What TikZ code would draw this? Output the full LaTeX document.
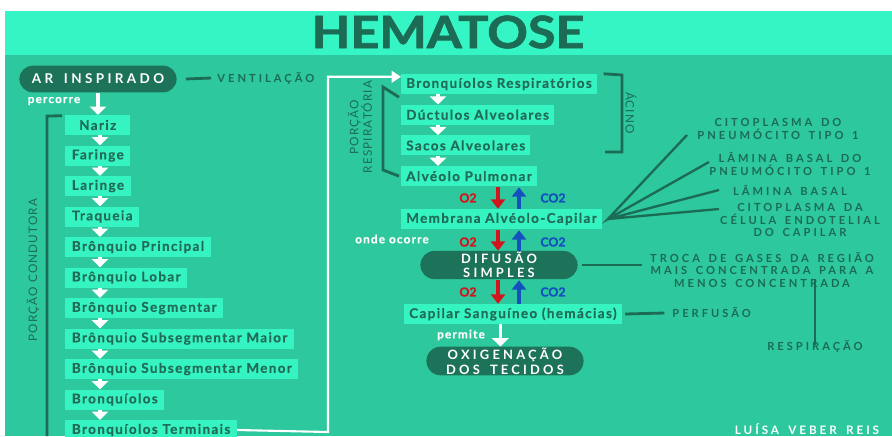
\documentclass[tikz,border=0pt]{standalone}
\usepackage{fontspec}
\setmainfont{Lato}
\newfontfamily\titlefont[BoldFeatures={FakeBold=1.5}]{Lato}
\newfontfamily\boxfont[LetterSpace=10,BoldFeatures={FakeBold=0.4}]{Lato}
\newfontfamily\pillfont[LetterSpace=25,WordSpace=1.6]{Lato}
\newfontfamily\lblfont[LetterSpace=27,WordSpace=1.5]{Lato}
\newfontfamily\sidefont[LetterSpace=10]{Lato}
\usetikzlibrary{arrows.meta,shapes.misc}

\definecolor{bgc}{HTML}{2DC89D}
\definecolor{band}{HTML}{36F5C4}
\definecolor{boxc}{HTML}{35F4C2}
\definecolor{dark}{HTML}{1C6B55}
\definecolor{boxtext}{HTML}{226C57}
\definecolor{pillc}{HTML}{1D7359}
\definecolor{otwo}{HTML}{D0161C}
\definecolor{cotwo}{HTML}{1450BE}

\begin{document}
\begin{tikzpicture}[x=0.03cm,y=-0.03cm,
    box/.style={fill=boxc,text=boxtext,font=\boxfont\bfseries\fontsize{11.5}{13}\selectfont,anchor=west,minimum height=0.6cm,inner xsep=0.15cm,inner ysep=0pt},
    pill/.style={rounded rectangle,fill=pillc,text=white,align=center,minimum height=0.8cm,minimum width=4.95cm,inner ysep=1pt},
    lbl/.style={text=dark,font=\lblfont\bfseries\fontsize{9.5}{11}\selectfont,align=center,inner sep=1pt},
    side/.style={text=dark,font=\sidefont\fontsize{10}{11.5}\selectfont,align=center,inner sep=1pt},
    note/.style={text=white,font=\boxfont\bfseries\fontsize{10}{11}\selectfont,inner sep=1pt},
    gasl/.style={font=\titlefont\bfseries\fontsize{10.5}{11}\selectfont,inner sep=1pt},
    warrow/.style={white,line width=2.6pt,-{Triangle[width=14pt,length=7pt]}},
    gas/.style={line width=3pt,-{Triangle[width=12pt,length=8pt]}},
    dline/.style={dark,line width=2.4pt}]
    \useasboundingbox (0,0) rectangle (892,436);
    \fill[white] (0,0) rectangle (892,436);
    \fill[band] (5,11) rectangle (892,55);
    \fill[bgc] (5,55) rectangle (892,436);

    \node[text=dark,font=\titlefont\bfseries\fontsize{38}{38}\selectfont,xscale=1.13] (title) at (448,32) {HEMATOSE};

    % porcao condutora
    \node[pill,font=\pillfont\bfseries\fontsize{11.5}{13}\selectfont] (ar) at (98,79) {AR INSPIRADO};
    \node[lbl,anchor=west] (vent) at (216,78) {VENTILAÇÃO};
    \draw[dline] ([xshift=0.27cm]ar.east) -- ([xshift=-0.15cm]vent.west);
    \node[note] (perc) at (54,101) {percorre};

    \foreach \t[count=\i] in {Nariz,Faringe,Laringe,Traqueia,Brônquio Principal,Brônquio Lobar,Brônquio Segmentar,Brônquio Subsegmentar Maior,Brônquio Subsegmentar Menor,Bronquíolos,Bronquíolos Terminais} {
        \node[box,minimum width=1.95cm,inner xsep=0.2cm] (c\i) at (65,{125+(\i-1)*30.5}) {\t};
    }
    \foreach \i[evaluate=\i as \j using int(\i+1)] in {1,...,10} {
        \draw[warrow] ([xshift=1.05cm]c\i.south west) -- ([xshift=1.05cm]c\j.north west);
    }
    \draw[warrow] (ar.south) -- (ar.south |- c1.north);
    \draw[dline] ([xshift=-0.09cm,yshift=-0.03cm]c1.north west) -- (47,116) -- (47,436);
    \node[side,rotate=90] (cond) at (33,270) {PORÇÃO CONDUTORA};

    % porcao respiratoria
    \foreach \t[count=\i] in {Bronquíolos Respiratórios,Dúctulos Alveolares,Sacos Alveolares,Alvéolo Pulmonar} {
        \node[box] (r\i) at (401,{84+(\i-1)*30.7}) {\t};
    }
    \foreach \i[evaluate=\i as \j using int(\i+1)] in {1,2,3} {
        \draw[warrow] ([xshift=1.11cm]r\i.south west) -- ([xshift=1.11cm]r\j.north west);
    }
    \coordinate (bend) at (328,432);
    \draw[white,line width=1.8pt,-{Triangle[width=10pt,length=8pt]}] (c11.east) -- (bend) |- ([yshift=-0.09cm]r1.north west);
    \draw[dline] ([xshift=-0.06cm,yshift=-0.09cm]r1.south west) -- (383,87) -- (383,170) -- ([xshift=-0.06cm]r4.west);
    \node[side,rotate=90] (resp) at (360,127) {PORÇÃO\\RESPIRATÓRIA};
    \draw[dline] ([xshift=0.2cm]r1.north east) -- (622,75) -- (622,152) -- (605,152);
    \node[side,rotate=-90] (acino) at (631,113) {ÁCINO};

    \node[box] (memb) at (401,219) {Membrana Alvéolo-Capilar};
    \node[pill,font=\pillfont\bfseries\fontsize{11}{12}\selectfont] (dif) at (499,265) {DIFUSÃO\\SIMPLES};
    \node[box] (cap) at (404,314) {Capilar Sanguíneo (hemácias)};
    \node[pill,font=\pillfont\bfseries\fontsize{11}{12.5}\selectfont] (oxi) at (505,361) {OXIGENAÇÃO\\DOS TECIDOS};

    % trocas gasosas
    \coordinate (ox) at (498,0);
    \coordinate (cx) at (519,0);
    \foreach \a/\b/\y in {r4/memb/198,memb/dif/242,dif/cap/292} {
        \draw[gas,otwo] ([yshift=-0.03cm]ox |- \a.south) -- (ox |- \b.north);
        \draw[gas,cotwo] (cx |- \b.north) -- ([yshift=-0.03cm]cx |- \a.south);
        \node[gasl,text=otwo] at (468,\y) {O2};
        \node[gasl,text=cotwo] at (553,\y) {CO2};
    }
    \node[note] (onde) at (392,239) {onde ocorre};
    \node[note] (perm) at (461,335) {permite};
    \draw[warrow] ([xshift=-0.14cm]oxi.north |- cap.south) -- ([xshift=-0.14cm]oxi.north);

    % camadas da membrana
    \coordinate (fan) at ([xshift=0.18cm]memb.east);
    \node[lbl] (l1) at (778,129) {CITOPLASMA DO\\PNEUMÓCITO TIPO 1};
    \node[lbl] (l2) at (790,164) {LÂMINA BASAL DO\\PNEUMÓCITO TIPO 1};
    \node[lbl] (l3) at (790,190) {LÂMINA BASAL};
    \node[lbl] (l4) at (800,220) {CITOPLASMA DA\\CÉLULA ENDOTELIAL\\DO CAPILAR};
    \draw[dline,line width=2pt] (687,135) -- (fan) -- (709,162);
    \draw[dline,line width=2pt] (719,190) -- (fan) -- (719,209);

    \node[lbl] (troca) at (762,270) {TROCA DE GASES DA REGIÃO\\MAIS CONCENTRADA PARA A\\MENOS CONCENTRADA};
    \draw[dline] ([xshift=0.12cm]dif.east) -- ([xshift=-0.2cm]troca.west |- dif.east);
    \node[lbl] (respi) at (815,346) {RESPIRAÇÃO};
    \draw[dline] ([yshift=-0.2cm]respi.north) -- ([yshift=0.3cm]respi.north |- troca.south);
    \node[lbl,anchor=west] (perf) at (671,313) {PERFUSÃO};
    \draw[dline] ([xshift=0.1cm]cap.east) -- ([xshift=-0.2cm]perf.west);

    \node[text=white,font=\pillfont\bfseries\fontsize{10}{10}\selectfont,inner sep=1pt] (autor) at (807,429) {LUÍSA VEBER REIS};
\end{tikzpicture}
\end{document}
